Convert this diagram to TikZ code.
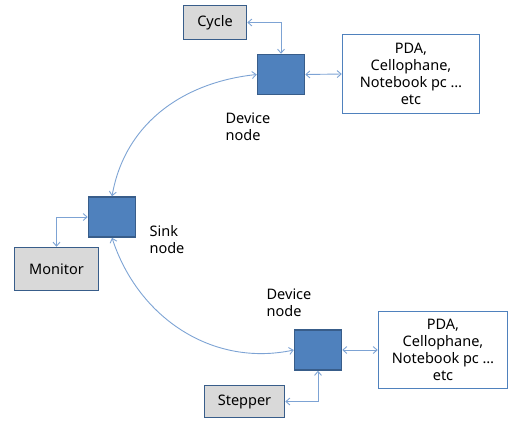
\documentclass[tikz,border=0pt]{standalone}
\usepackage{fontspec}
\setmainfont{Noto Sans}
\usetikzlibrary{arrows.meta}
\definecolor{nodeblue}{RGB}{79,129,189}
\definecolor{nodeedge}{RGB}{56,93,138}
\definecolor{linkblue}{RGB}{125,163,212}
\definecolor{boxgray}{RGB}{217,217,217}

\begin{document}
\begin{tikzpicture}[x=1pt, y=-1pt, font=\fontsize{14.5}{17}\selectfont,
    sensor/.style={draw=nodeedge, fill=nodeblue, line width=1.5pt, minimum width=47pt, minimum height=40pt, inner sep=0pt},
    sensorbox/.style={draw=nodeedge, fill=boxgray, line width=1.5pt, inner sep=0pt},
    infobox/.style={draw=nodeblue, fill=white, line width=1.5pt, align=center, inner sep=0pt},
    caption/.style={align=left, inner sep=0pt},
    link/.style={draw=linkblue, line width=0.9pt, {Straight Barb[length=4pt,width=7pt]}-{Straight Barb[length=4pt,width=7pt]}}]
    \useasboundingbox (0,0) rectangle (510,421);

    % sink side
    \node[sensor] (sink) at (112,217) {};
    \node[caption] (sinklbl) at (167,240) {Sink\\node};
    \node[sensorbox, minimum width=84pt, minimum height=43pt] (monitor) at (56.5,269) {Monitor};
    \draw[link] (sink.west) -| (monitor.north);

    % upper device
    \node[sensor] (devup) at (281,74.5) {};
    \node[caption] (devuplbl) at (248,127) {Device\\node};
    \node[sensorbox, minimum width=63pt, minimum height=34pt] (cycle) at (215,22.5) {Cycle};
    \node[infobox, minimum width=137pt, minimum height=79pt] (infoup) at (411,74) {PDA,\\Cellophane,\\Notebook pc \dots\\etc};
    \draw[link] (cycle.east) -| (devup.north);
    \draw[link] (devup.east) -- (infoup.west);

    % lower device
    \node[sensor] (devdown) at (318,350) {};
    \node[caption] (devdownlbl) at (289,303) {Device\\node};
    \node[sensorbox, minimum width=80pt, minimum height=32pt] (stepper) at (244.5,401.5) {Stepper};
    \node[infobox, minimum width=129pt, minimum height=77pt] (infodown) at (443,350) {PDA,\\Cellophane,\\Notebook pc \dots\\etc};
    \draw[link] (devdown.south) |- (stepper.east);
    \draw[link] (devdown.east) -- (infodown.west);

    % sink to devices
    \draw[link] (devup.west) to[out=186, in=80] (sink.north);
    \draw[link] (sink.south) to[out=-72, in=192] (devdown.west);
\end{tikzpicture}
\end{document}
